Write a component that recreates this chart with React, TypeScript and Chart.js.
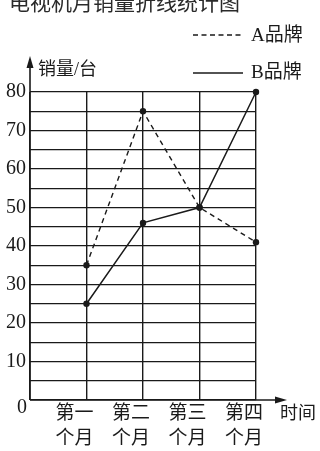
import React, { useEffect, useRef } from "react";
import { Chart, registerables } from "chart.js";

Chart.register(...registerables);

const TITLE = "电视机月销量折线统计图";
const CATEGORIES: string[][] = [
  ["第一", "个月"],
  ["第二", "个月"],
  ["第三", "个月"],
  ["第四", "个月"],
];
const SERIES_A = [35, 75, 50, 41];
const SERIES_B = [25, 46, 50, 80];
const SERIES_A_NAME = "A品牌";
const SERIES_B_NAME = "B品牌";
const Y_TICKS = [0, 10, 20, 30, 40, 50, 60, 70, 80];
const Y_LABEL = "销量/台";
const X_LABEL = "时间";

const FONT = "'Liberation Serif', 'Noto Sans CJK SC', serif";
const INK = "#1a1a1a";

const decorPlugin = {
  id: "decor",
  afterDraw(chart: any) {
    const ctx: CanvasRenderingContext2D = chart.ctx;
    const xs = chart.scales.x;
    const ys = chart.scales.y;
    const x0 = xs.getPixelForValue(0);
    const y0 = ys.getPixelForValue(0);
    const yTop = ys.getPixelForValue(80);
    const xRight = xs.getPixelForValue(4);
    ctx.save();
    ctx.strokeStyle = INK;
    ctx.fillStyle = INK;
    ctx.lineWidth = 1.6;
    // y axis with arrow
    ctx.beginPath();
    ctx.moveTo(x0, y0);
    ctx.lineTo(x0, yTop - 28);
    ctx.stroke();
    ctx.beginPath();
    ctx.moveTo(x0, yTop - 36);
    ctx.lineTo(x0 - 3.5, yTop - 24);
    ctx.lineTo(x0 + 3.5, yTop - 24);
    ctx.closePath();
    ctx.fill();
    // x axis with arrow
    ctx.beginPath();
    ctx.moveTo(x0, y0);
    ctx.lineTo(xRight + 22, y0);
    ctx.stroke();
    ctx.beginPath();
    ctx.moveTo(xRight + 31, y0);
    ctx.lineTo(xRight + 19, y0 - 3.5);
    ctx.lineTo(xRight + 19, y0 + 3.5);
    ctx.closePath();
    ctx.fill();

    // y tick labels
    ctx.font = `20px ${FONT}`;
    ctx.textAlign = "right";
    ctx.textBaseline = "middle";
    for (const v of Y_TICKS) {
      const py = ys.getPixelForValue(v);
      if (v === 0) {
        ctx.fillText(String(v), x0 - 3, py + 8);
      } else {
        ctx.fillText(String(v), x0 - 4, py);
      }
    }

    // x category labels
    ctx.font = `19px ${FONT}`;
    ctx.textAlign = "center";
    CATEGORIES.forEach((lines, i) => {
      const px = xs.getPixelForValue(i + 1) - 12;
      lines.forEach((t, j) => {
        ctx.fillText(t, px, y0 + 14 + j * 25);
      });
    });

    // axis titles
    ctx.font = `18px ${FONT}`;
    ctx.textAlign = "left";
    ctx.fillText(X_LABEL, xRight + 24, y0 + 14);
    ctx.fillText(Y_LABEL, x0 + 8, yTop - 22);

    // title (clipped at the top)
    ctx.font = `21px ${FONT}`;
    ctx.fillStyle = "#2a2a2a";
    ctx.textBaseline = "alphabetic";
    ctx.fillText(TITLE, 9, 10);

    // legend
    ctx.fillStyle = INK;
    ctx.font = `19px ${FONT}`;
    ctx.textBaseline = "middle";
    ctx.lineWidth = 1.3;
    ctx.setLineDash([5, 3.5]);
    ctx.beginPath();
    ctx.moveTo(193, 35);
    ctx.lineTo(243, 35);
    ctx.stroke();
    ctx.setLineDash([]);
    ctx.beginPath();
    ctx.moveTo(193, 73);
    ctx.lineTo(243, 73);
    ctx.stroke();
    ctx.fillText(SERIES_A_NAME, 251, 36);
    ctx.fillText(SERIES_B_NAME, 251, 73);
    ctx.restore();
  },
};

export default function App() {
  const ref = useRef<HTMLCanvasElement | null>(null);
  useEffect(() => {
    if (!ref.current) return;
    const toPts = (arr: number[]) => arr.map((v, i) => ({ x: i + 1, y: v }));
    const chart = new Chart(ref.current, {
      type: "line",
      data: {
        datasets: [
          {
            label: SERIES_A_NAME,
            data: toPts(SERIES_A),
            borderColor: INK,
            backgroundColor: INK,
            borderWidth: 1.4,
            borderDash: [5, 4],
            pointRadius: 3.2,
            pointBackgroundColor: INK,
            pointBorderWidth: 0,
            tension: 0,
            clip: false,
          },
          {
            label: SERIES_B_NAME,
            data: toPts(SERIES_B),
            borderColor: INK,
            backgroundColor: INK,
            borderWidth: 1.5,
            pointRadius: 3.2,
            pointBackgroundColor: INK,
            pointBorderWidth: 0,
            tension: 0,
            clip: false,
          },
        ],
      },
      options: {
        responsive: false,
        animation: false,
        events: [],
        layout: { padding: { left: 30, right: 64, top: 92, bottom: 51 } },
        plugins: {
          legend: { display: false },
          tooltip: { enabled: false },
          title: { display: false },
        },
        scales: {
          x: {
            type: "linear",
            min: 0,
            max: 4,
            ticks: { display: false, stepSize: 1 },
            grid: { color: INK, lineWidth: 1.4, drawTicks: false },
            border: { display: false },
          },
          y: {
            type: "linear",
            min: 0,
            max: 80,
            ticks: { display: false, stepSize: 5 },
            grid: { color: INK, lineWidth: 1.3, drawTicks: false },
            border: { display: false },
          },
        },
      },
      plugins: [decorPlugin],
    });
    return () => chart.destroy();
  }, []);
  return (
    <div style={{ position: "fixed", left: 0, top: 0, width: 320, height: 451, background: "#fff" }}>
      <canvas ref={ref} width={320} height={451} style={{ display: "block" }} />
    </div>
  );
}
